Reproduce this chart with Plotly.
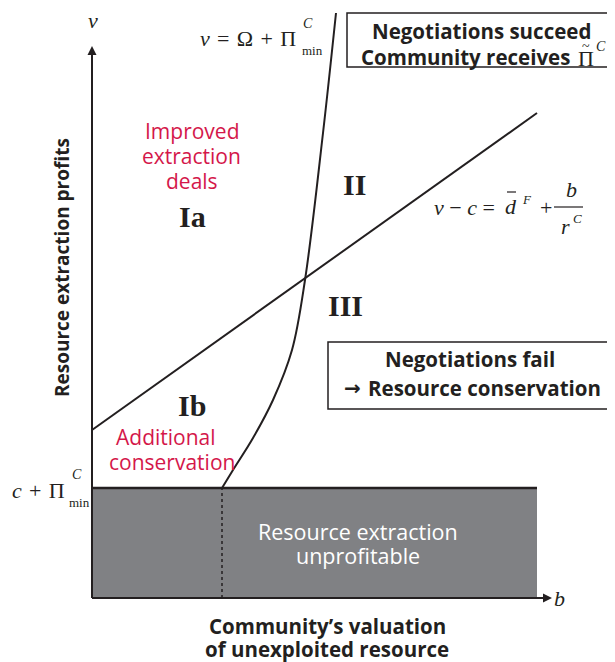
import plotly.graph_objects as go

# ---- data (diagram units) ----
b_max = 445                 # extent of the diagram along b
b_axis_end = 460            # arrow tip of the b axis
v_axis_end = 552            # arrow tip of the v axis
v_min_profit = 110          # c + Pi^C_min threshold
b_star = 130                # b where curve meets threshold
line_b = [0, 445]           # v - c = d^F + b / r^C
line_v = [168, 485]
curve_b = [130, 141, 161, 181, 200, 213, 231, 244]   # v = Omega + Pi^C_min
curve_v = [110, 128, 160, 198, 248, 318, 465, 585]

INK = "#231f20"
RED = "#d4174a"
GRAY = "#808184"
SANS = "Open Sans"
SERIF = "Liberation Serif"

fig = go.Figure()

# unprofitable region
fig.add_trace(go.Scatter(x=[0, b_max, b_max, 0, 0],
                         y=[0, 0, v_min_profit, v_min_profit, 0],
                         fill="toself", fillcolor=GRAY, mode="lines",
                         line=dict(width=0), hoverinfo="skip"))
fig.add_trace(go.Scatter(x=[0, b_max], y=[v_min_profit, v_min_profit],
                         mode="lines", line=dict(color=INK, width=2.5), hoverinfo="skip"))
fig.add_trace(go.Scatter(x=[b_star, b_star], y=[0, v_min_profit],
                         mode="lines", line=dict(color=INK, width=1.5, dash="dot"), hoverinfo="skip"))
# straight line
fig.add_trace(go.Scatter(x=line_b, y=line_v, mode="lines",
                         line=dict(color=INK, width=2), hoverinfo="skip"))
# curve
fig.add_trace(go.Scatter(x=curve_b, y=curve_v, mode="lines",
                         line=dict(color=INK, width=2, shape="spline", smoothing=1.0),
                         hoverinfo="skip"))
# axes with arrows
fig.add_trace(go.Scatter(x=[0, b_axis_end - 4], y=[0, 0], mode="lines",
                         line=dict(color=INK, width=2), hoverinfo="skip"))
fig.add_trace(go.Scatter(x=[0, 0], y=[0, v_axis_end - 4], mode="lines",
                         line=dict(color=INK, width=2), hoverinfo="skip"))
fig.add_trace(go.Scatter(x=[b_axis_end], y=[0], mode="markers",
                         marker=dict(symbol="arrow-right", size=9, color=INK), hoverinfo="skip"))
fig.add_trace(go.Scatter(x=[0], y=[v_axis_end], mode="markers",
                         marker=dict(symbol="arrow-up", size=9, color=INK), hoverinfo="skip"))


def P(px, py):
    return px - 92, 598 - py


ann = []


def txt(px, py, text, size, color=INK, family=SANS, weight="normal", xanchor="center", style="normal"):
    x, y = P(px, py)
    ann.append(dict(x=x, y=y, xref="x", yref="y", text=text, showarrow=False,
                    xanchor=xanchor, yanchor="middle",
                    font=dict(size=size, color=color, family=family, weight=weight, style=style)))


txt(93, 20, "v", 22, family=SERIF, style="italic")
txt(559, 598, "b", 22, family=SERIF, style="italic")

# axis titles
x0, y0 = P(62, 268)
ann.append(dict(x=x0, y=y0, xref="x", yref="y", text="Resource extraction profits", showarrow=False,
                textangle=-90, font=dict(size=19, color=INK, family=SANS, weight="bold")))
txt(327, 626, "Community\u2019s valuation", 20.5, weight="bold")
txt(327, 649, "of unexploited resource", 20.5, weight="bold")

S = "\u2004"
# top curve label
txt(298, 38, f"<i>v</i>{S}={S}\u03a9{S}+{S}\u03a0", 22, family=SERIF, xanchor="right")
txt(301, 23, "<i>C</i>", 14, family=SERIF, xanchor="left")
txt(300, 50, "min", 13, family=SERIF, xanchor="left")

# left threshold label
txt(67, 490, f"<i>c</i>{S}+{S}\u03a0", 22, family=SERIF, xanchor="right")
txt(70, 474, "<i>C</i>", 14, family=SERIF, xanchor="left")
txt(67, 502, "min", 13, family=SERIF, xanchor="left")

# right line label
S2 = "\u2005"
txt(432, 207, f"<i>v</i>{S2}\u2212{S2}<i>c</i>{S2}=", 22, family=SERIF, xanchor="left")
txt(511, 206, "<i>d</i>", 22, family=SERIF)
txt(527, 199, "<i>F</i>", 13, family=SERIF)
txt(546, 207, "+", 22, family=SERIF)
txt(571, 189, "<i>b</i>", 22, family=SERIF)
txt(565, 226, "<i>r</i>", 22, family=SERIF)
txt(577, 218, "<i>C</i>", 13, family=SERIF)

# regions
txt(354, 184, "II", 30, family=SERIF, weight="bold")
txt(192, 216, "Ia", 30, family=SERIF, weight="bold")
txt(345, 305, "III", 30, family=SERIF, weight="bold")
txt(192, 405, "Ib", 30, family=SERIF, weight="bold")

txt(192, 131, "Improved", 21, color=RED)
txt(191, 156, "extraction", 21, color=RED)
txt(192, 181, "deals", 21, color=RED)
txt(166, 437, "Additional", 21, color=RED)
txt(172, 462, "conservation", 21, color=RED)

txt(358, 531, "Resource extraction", 21.5, color="white")
txt(358, 555, "unprofitable", 21.5, color="white")

# boxes text
txt(481, 31, "Negotiations succeed", 20.5, weight="bold")
txt(572, 57, "Community receives", 20.5, weight="bold", xanchor="right")
txt(586, 58, "\u03a0", 22, family=SERIF)
txt(586, 46, "~", 14, family=SERIF)
txt(601, 46, "<i>C</i>", 14, family=SERIF)
txt(470, 359, "Negotiations fail", 20.5, weight="bold")
txt(352, 388, "\u2192", 20, family="DejaVu Sans", weight="bold")
txt(366, 388, "Resource conservation", 20.5, weight="bold", xanchor="left")

shapes = []
# boxes run off the right edge: draw only top, left and bottom sides
for (px0, py0, px1, py1) in [(347, 13, 640, 67), (328, 342, 640, 409)]:
    a0, b0 = P(px0, py0)
    a1, b1 = P(px1, py1)
    shapes.append(dict(type="path", xref="x", yref="y",
                       path=f"M{a1},{b0} L{a0},{b0} L{a0},{b1} L{a1},{b1}",
                       line=dict(color=INK, width=1.5)))
# fraction bar
f0, fy = P(554, 207)
f1, _ = P(583, 207)
shapes.append(dict(type="line", xref="x", yref="y", x0=f0, y0=fy, x1=f1, y1=fy,
                   line=dict(color=INK, width=1.2)))
# bar over d
d0, dy = P(507, 192)
d1, _ = P(516, 192)
shapes.append(dict(type="line", xref="x", yref="y", x0=d0, y0=dy, x1=d1, y1=dy,
                   line=dict(color=INK, width=1.2)))

# page body has an 8px margin: shift the plotting frame so content lands in place
W, H = 607, 654
fig.update_layout(
    width=W, height=H, margin=dict(l=0, r=0, t=0, b=0),
    paper_bgcolor="white", plot_bgcolor="white", showlegend=False,
    xaxis=dict(range=[-84, -84 + W], visible=False, fixedrange=True),
    yaxis=dict(range=[590 - H, 590], visible=False, fixedrange=True),
    annotations=ann, shapes=shapes,
)

fig.write_html("out.html")
